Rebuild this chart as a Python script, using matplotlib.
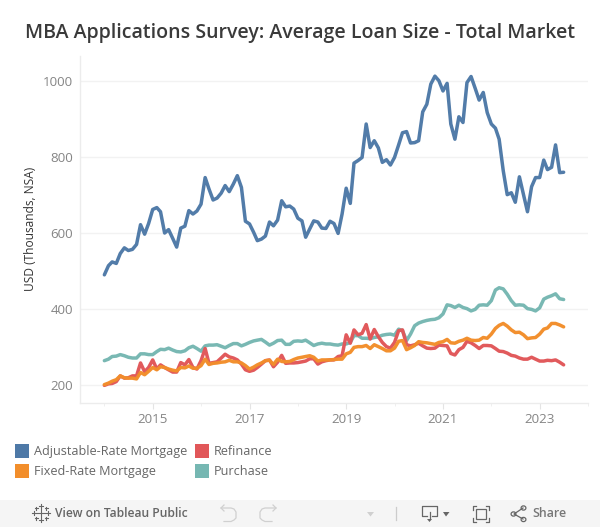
import matplotlib
matplotlib.use("Agg")
import matplotlib.pyplot as plt
import matplotlib.dates as mdates
from matplotlib.lines import Line2D
from matplotlib.patches import Rectangle, Polygon, Circle
import pandas as pd

plt.rcParams['font.family'] = ['Lato', 'DejaVu Sans']

TITLE = "MBA Applications Survey: Average Loan Size - Total Market"
YLABEL = "USD (Thousands, NSA)"
START = "2014-01-01"

arm = [490,514,524,520,546,561,554,557,570,622,597,625,662,667,656,600,609,586,563,613,
       618,659,650,658,676,746,716,687,692,705,725,709,729,751,720,631,624,602,580,584,
       592,629,619,634,685,669,671,663,639,632,589,611,632,629,613,612,631,625,599,650,
       718,678,784,791,799,887,825,843,824,786,793,779,799,832,864,867,837,838,843,919,
       939,992,1013,1001,974,994,887,847,906,891,996,1012,981,950,970,917,887,876,847,764,
       701,706,681,748,701,656,722,746,746,792,767,773,832,759,760]
fixed = [201,205,210,214,224,219,218,218,216,233,227,236,246,240,248,246,242,239,237,246,
         245,250,244,244,251,268,254,257,258,260,261,265,261,261,258,251,242,247,253,258,
         264,265,254,268,262,261,262,267,271,273,275,277,273,263,266,266,266,267,268,268,
         282,286,299,301,301,304,296,306,301,296,290,290,297,315,317,293,298,304,314,312,
         311,309,307,312,314,320,311,310,315,318,323,318,317,318,325,323,334,349,357,362,
         355,345,338,339,332,322,324,325,334,347,350,362,362,358,353]
refi = [199,203,204,209,224,218,219,224,224,258,235,246,266,242,253,246,240,234,234,259,
        253,267,246,242,264,296,257,259,261,271,281,274,271,266,255,240,236,239,246,255,
        264,266,248,260,278,257,258,258,259,261,263,269,269,255,261,264,266,266,275,277,
        332,310,345,332,336,359,321,346,327,312,301,297,312,343,345,306,303,306,310,303,
        297,296,297,305,304,303,283,279,293,299,315,311,304,296,304,304,303,296,289,288,
        284,278,276,271,268,268,273,268,263,263,265,264,266,260,253]
purchase = [264,268,275,276,280,277,273,271,271,282,282,280,280,288,294,293,297,292,288,287,
            290,298,302,296,289,303,305,305,306,302,298,304,309,309,303,307,312,316,318,320,
            313,305,310,317,318,307,307,315,316,315,318,311,304,308,310,308,308,306,305,308,
            308,312,330,330,323,323,322,325,327,331,333,334,331,347,343,317,334,356,363,367,
            370,372,373,377,387,411,409,404,410,404,401,395,399,410,411,410,422,450,456,453,
            439,422,410,411,410,401,399,395,403,426,431,435,440,427,425]

series_names = ["Adjustable-Rate Mortgage", "Fixed-Rate Mortgage", "Refinance", "Purchase"]
colors = {"Adjustable-Rate Mortgage": "#4e79a7", "Fixed-Rate Mortgage": "#f28e2b",
          "Refinance": "#e15759", "Purchase": "#76b7b2"}
series = {"Adjustable-Rate Mortgage": arm, "Fixed-Rate Mortgage": fixed,
          "Refinance": refi, "Purchase": purchase}
draw_order = ["Purchase", "Refinance", "Fixed-Rate Mortgage", "Adjustable-Rate Mortgage"]
yticks = [200, 400, 600, 800, 1000]
major_years = [2015, 2017, 2019, 2021, 2023]
minor_years = [2014, 2016, 2018, 2020, 2022, 2024]

W, H = 600, 527
fig = plt.figure(figsize=(W/100, H/100), dpi=100, facecolor="white")

def fx(x): return x / W
def fy(y): return 1 - y / H

L, R, T, B = 80, 588, 56, 403
ax = fig.add_axes([fx(L), fy(B), (R-L)/W, (B-T)/H])
dates = pd.date_range(START, periods=len(arm), freq="MS")
for name in draw_order:
    ax.plot(dates, series[name], color=colors[name], lw=2.5, solid_joinstyle="round",
            solid_capstyle="round", alpha=0.98)

ax.set_xlim(pd.Timestamp("2013-07-01"), pd.Timestamp("2024-01-01"))
ax.set_ylim(152.6, 1066)
ax.set_yticks(yticks)
ax.set_xticks([pd.Timestamp(f"{y}-01-01") for y in major_years])
ax.set_xticks([pd.Timestamp(f"{y}-01-01") for y in minor_years], minor=True)
ax.xaxis.set_major_formatter(mdates.DateFormatter("%Y"))
ax.grid(axis="y", color="#f2f2f2", lw=1)
ax.set_axisbelow(True)
for s in ("top", "right"):
    ax.spines[s].set_visible(False)
for s in ("left", "bottom"):
    ax.spines[s].set_color("#ececec")
    ax.spines[s].set_linewidth(1)
ax.tick_params(axis="y", length=0, labelsize=9.6, labelcolor="#858585", pad=5)
ax.tick_params(axis="x", which="major", length=4, color="#e4e4e4", labelsize=9.6,
               labelcolor="#858585", pad=3)
ax.tick_params(axis="x", which="minor", length=2.5, color="#ececec")
for t in ax.get_xticklabels() + ax.get_yticklabels():
    t.set_family("Open Sans")

fig.text(fx(300), fy(33), TITLE, ha="center", va="center", fontsize=14.05,
         color="#3a3a3a", fontweight="semibold", family=["Open Sans", "Lato"])
fig.text(fx(30), fy(229), YLABEL, rotation=90, ha="center", va="center",
         fontsize=8.6, color="#333333", family="Open Sans")

# Legend
legend_pos = {"Adjustable-Rate Mortgage": (15, 444), "Fixed-Rate Mortgage": (15, 464),
              "Refinance": (195, 444), "Purchase": (195, 464)}
for name in series_names:
    x, y = legend_pos[name]
    fig.add_artist(Rectangle((fx(x), fy(y+14)), 14/W, 14/H, transform=fig.transFigure,
                             color=colors[name], lw=0))
    fig.text(fx(x+19), fy(y+7.5), name, va="center", ha="left", fontsize=9.1,
             color="#666666", family="Open Sans")

# Toolbar
fig.add_artist(Rectangle((0, 0), 1, 27/H, transform=fig.transFigure, color="#f5f5f5", lw=0))
fig.text(fx(55), fy(513.5), "View on Tableau Public", va="center", ha="left", fontsize=8.7,
         color="#666666", fontweight="semibold", family="Open Sans")
fig.text(fx(532), fy(513.5), "Share", va="center", ha="left", fontsize=8.9,
         color="#777777", fontweight="semibold", family="Open Sans")

def pl(xs, ys, c="#666666", lw=0.9):
    fig.add_artist(Line2D([fx(v) for v in xs], [fy(v) for v in ys], color=c, lw=lw,
                          transform=fig.transFigure))

# Tableau logo
for cx, cy, r in [(41, 513, 4), (34, 513, 2), (48, 513, 2), (41, 506, 2), (41, 520, 2),
                  (36, 508, 1.5), (46, 508, 1.5), (36, 518, 1.5), (46, 518, 1.5)]:
    pl([cx-r, cx+r], [cy, cy], lw=0.8)
    pl([cx, cx], [cy-r, cy+r], lw=0.8)
# Undo / redo
ig = "#d0d0d0"
pl([221, 231, 234, 236, 236, 234, 231, 224], [508, 508, 509, 512, 518, 520, 521.5, 521.5], ig)
pl([224, 221, 224], [505, 508, 511], ig)
pl([276, 265, 262, 260, 260, 262, 265, 272], [508, 508, 509, 512, 518, 520, 521.5, 521.5], ig)
pl([273, 276, 273], [505, 508, 511], ig)
fig.add_artist(Polygon([(fx(367), fy(512)), (fx(374), fy(512)), (fx(370.5), fy(516.5))],
                       transform=fig.transFigure, color=ig, lw=0))
pl([395.5, 395.5], [507, 520], "#cccccc")
# Download
pl([427, 422, 422, 437, 437, 432], [516, 516, 506, 506, 516, 516])
pl([429.5, 429.5], [512, 519])
fig.add_artist(Polygon([(fx(427), fy(519)), (fx(432), fy(519)), (fx(429.5), fy(522))],
                       transform=fig.transFigure, color="#666666", lw=0))
fig.add_artist(Polygon([(fx(443), fy(512)), (fx(449.5), fy(512)), (fx(446), fy(516.5))],
                       transform=fig.transFigure, color="#666666", lw=0))
# Fullscreen
pl([473, 473, 476], [510, 506, 506]); pl([486, 489, 489], [506, 506, 510])
pl([473, 473, 476], [518, 522, 522]); pl([486, 489, 489], [522, 522, 518])
fig.add_artist(Rectangle((fx(476), fy(519)), 10/W, 10/H, transform=fig.transFigure,
                         fill=False, ec="#666666", lw=0.9))
# Share
pl([523, 514, 523], [508, 514, 519])
for cx, cy in [(523.5, 508), (513.5, 514), (523.5, 519.5)]:
    fig.add_artist(Circle((fx(cx), fy(cy)), 2.4/W, transform=fig.transFigure,
                          fc="#f5f5f5", ec="#666666", lw=0.9))

fig.savefig("out.png", dpi=100)
